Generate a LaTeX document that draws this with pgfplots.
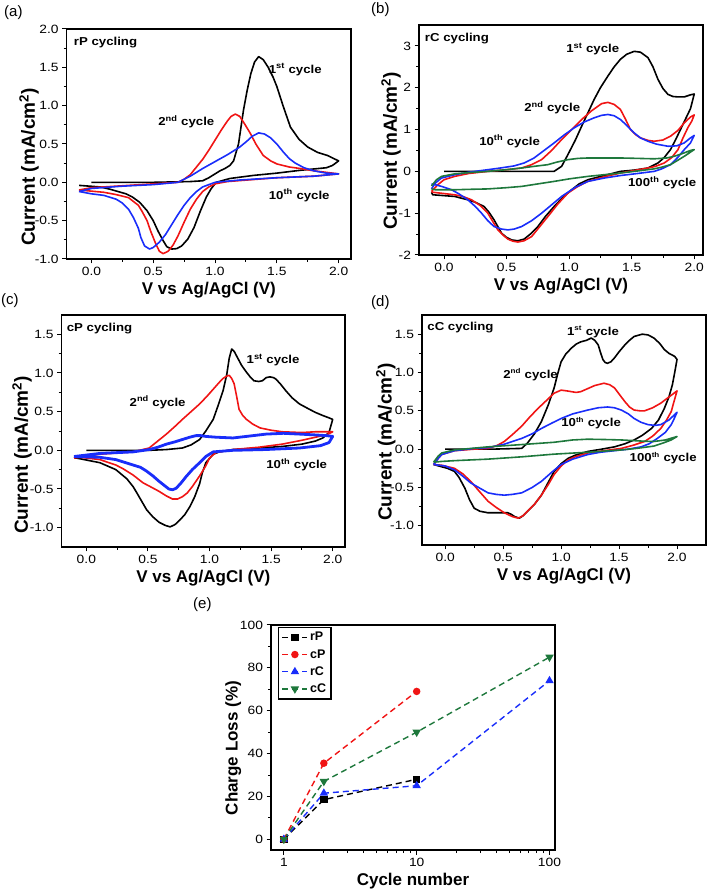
\documentclass[border=0pt]{standalone}
\usepackage{fontspec}
\setmainfont{Liberation Sans}
\newfontfamily\annfont{Liberation Sans}[FakeStretch=1.15]
\usepackage{pgfplots}
\pgfplotsset{compat=1.18}
\definecolor{cvred}{RGB}{240,20,20}
\definecolor{cvblue}{RGB}{25,45,250}
\definecolor{cvgreen}{RGB}{30,120,60}
\pgfplotsset{
 base/.style={
  scale only axis,
  axis line style={line width=1.4pt},
  tick align=outside, xtick pos=bottom, ytick pos=left,
  major tick length=4.5pt, minor tick length=3pt,
  major tick style={black, line width=1pt},
  minor tick style={black, line width=0.9pt},
  ticklabel style={font=\annfont\fontsize{12}{12}\selectfont},
  /pgf/number format/assume math mode=true,
 },
 cvaxis/.style={
  base, width=284pt, height=230pt,
  minor x tick num=1, minor y tick num=1,
  xticklabel style={/pgf/number format/fixed,/pgf/number format/fixed zerofill,/pgf/number format/precision=1},
  xmin=-0.2, xmax=2.1,
  xtick={0,0.5,1,1.5,2},
  xlabel={V vs Ag/AgCl (V)},
  ylabel={Current (mA/cm\textsuperscript{2})},
  xlabel style={font=\bfseries\fontsize{17}{17}\selectfont},
  ylabel style={font=\bfseries\fontsize{19}{19}\selectfont},
  every axis plot/.append style={line width=1.6pt, no markers, line join=round},
 },
 yfix/.style={yticklabel style={/pgf/number format/fixed,/pgf/number format/fixed zerofill,/pgf/number format/precision=1}},
 ylpos/.style 2 args={ylabel style={at={(axis description cs:-#1,#2)}, anchor=south, inner sep=0pt}},
}
\tikzset{ann/.style={font=\annfont\bfseries\fontsize{11.5}{13}\selectfont, anchor=west, inner sep=0pt},
 plab/.style={font=\fontsize{15}{15}\selectfont, anchor=north west, inner sep=0pt}}
\begin{document}
\begin{tikzpicture}
\useasboundingbox (0,0) rectangle (708pt,891pt);
\node[plab] at (4pt,886pt) {(a)};
\node[plab] at (371pt,889pt) {(b)};
\node[plab] at (1pt,598pt) {(c)};
\node[plab] at (371pt,596pt) {(d)};
\node[plab] at (193pt,294pt) {(e)};
% ---------------- (a)
\begin{axis}[cvaxis, yfix, ylpos={0.0975}{0.4}, at={(66.7pt,632pt)}, anchor=south west, width=284.3pt,
  ymin=-1, ymax=2, ytick={-1,-0.5,0,0.5,1,1.5,2}]
\addplot[black] coordinates {(0,0) (0.5,0) (0.8,0.01) (0.9,0.02) (0.95,0.06) (1.0,0.11) (1.04,0.15) (1.08,0.18) (1.12,0.22) (1.15,0.28) (1.19,0.5) (1.23,0.94) (1.26,1.2) (1.29,1.42) (1.32,1.57) (1.353,1.64) (1.39,1.6) (1.43,1.5) (1.47,1.37) (1.50,1.25) (1.55,1.0) (1.61,0.72) (1.68,0.56) (1.75,0.46) (1.83,0.39) (1.91,0.35) (1.96,0.31) (2.0,0.28)
 (1.95,0.22) (1.9,0.19) (1.69,0.157) (1.5,0.12) (1.31,0.09) (1.12,0.05) (1.01,0.0) (0.97,-0.08) (0.93,-0.19) (0.88,-0.38) (0.83,-0.59) (0.78,-0.74) (0.73,-0.83) (0.69,-0.865) (0.65,-0.87) (0.61,-0.84) (0.58,-0.76) (0.54,-0.64) (0.50,-0.5) (0.45,-0.37) (0.39,-0.26) (0.33,-0.19) (0.28,-0.15) (0.15,-0.09) (0.07,-0.06) (-0.1,-0.04)};
\addplot[cvred] coordinates {(-0.1,-0.1) (0.0,-0.07) (0.3,-0.04) (0.6,-0.01) (0.7,0.0) (0.75,0.04) (0.8,0.1) (0.85,0.2) (0.9,0.3) (0.95,0.42) (1.0,0.55) (1.05,0.68) (1.1,0.8) (1.13,0.86) (1.164,0.89) (1.2,0.86) (1.24,0.76) (1.285,0.64) (1.33,0.5) (1.39,0.35) (1.45,0.28) (1.50,0.24) (1.6,0.2) (1.69,0.18) (1.8,0.15) (2.0,0.11)
 (1.8,0.08) (1.5,0.06) (1.1,0.01) (1.0,-0.02) (0.95,-0.06) (0.9,-0.12) (0.85,-0.22) (0.8,-0.35) (0.75,-0.52) (0.7,-0.7) (0.66,-0.82) (0.62,-0.9) (0.58,-0.93) (0.55,-0.9) (0.52,-0.8) (0.48,-0.64) (0.45,-0.5) (0.41,-0.38) (0.38,-0.3) (0.3,-0.2) (0.2,-0.16) (0.1,-0.13) (-0.1,-0.1)};
\addplot[cvblue] coordinates {(-0.1,-0.12) (0.0,-0.08) (0.25,-0.05) (0.5,-0.03) (0.7,0.0) (0.75,0.04) (0.8,0.08) (0.9,0.18) (1.0,0.27) (1.1,0.36) (1.2,0.46) (1.26,0.54) (1.3,0.6) (1.353,0.645) (1.4,0.63) (1.45,0.58) (1.5,0.5) (1.55,0.4) (1.6,0.31) (1.65,0.25) (1.72,0.19) (1.8,0.15) (1.9,0.12) (2.0,0.11)
 (1.8,0.08) (1.5,0.06) (1.2,0.03) (1.0,0.0) (0.9,-0.06) (0.85,-0.12) (0.8,-0.2) (0.75,-0.3) (0.7,-0.42) (0.65,-0.55) (0.6,-0.68) (0.55,-0.78) (0.5,-0.85) (0.47,-0.87) (0.43,-0.83) (0.4,-0.72) (0.38,-0.6) (0.34,-0.46) (0.3,-0.35) (0.25,-0.27) (0.2,-0.22) (0.1,-0.17) (0.0,-0.15) (-0.1,-0.12)};
\node[ann] at (axis cs:-0.143,1.82) {rP cycling};
\node[ann] at (axis cs:1.434,1.47) {1\textsuperscript{st} cycle};
\node[ann] at (axis cs:0.54,0.79) {2\textsuperscript{nd} cycle};
\node[ann] at (axis cs:1.434,-0.17) {10\textsuperscript{th} cycle};
\end{axis}
% ---------------- (b)
\begin{axis}[cvaxis, ylpos={0.063}{0.452}, at={(419pt,636pt)}, anchor=south west, width=284pt, xmax=2.07,
  ymin=-2, ymax=3.5, ytick={-2,-1,0,1,2,3}]
\addplot[black] coordinates {(0,0) (0.5,0) (0.88,0.0) (0.94,0.12) (0.99,0.4) (1.05,0.75) (1.10,1.08) (1.15,1.4) (1.2,1.72) (1.25,2.0) (1.31,2.28) (1.36,2.5) (1.41,2.68) (1.46,2.8) (1.52,2.87) (1.57,2.85) (1.63,2.72) (1.67,2.5) (1.71,2.2) (1.75,1.98) (1.79,1.84) (1.83,1.79) (1.87,1.78) (1.92,1.78) (1.97,1.83) (2.0,1.85)
 (1.97,1.5) (1.93,1.25) (1.89,1.0) (1.85,0.75) (1.81,0.52) (1.76,0.33) (1.71,0.2) (1.63,0.08) (1.52,0.03) (1.41,0.0) (1.28,-0.1) (1.15,-0.2) (1.08,-0.3) (1.02,-0.44) (0.95,-0.62) (0.88,-0.84) (0.81,-1.08) (0.75,-1.32) (0.69,-1.5) (0.64,-1.62) (0.59,-1.66) (0.54,-1.64) (0.5,-1.58) (0.46,-1.48) (0.43,-1.32) (0.40,-1.16) (0.36,-0.98) (0.32,-0.84) (0.25,-0.74) (0.19,-0.68) (0.085,-0.6) (-0.09,-0.56) (-0.1,-0.5)};
\addplot[cvred] coordinates {(-0.1,-0.48) (-0.05,-0.32) (0.0,-0.2) (0.085,-0.12) (0.2,-0.05) (0.35,0.0) (0.5,0.04) (0.62,0.08) (0.7,0.16) (0.78,0.28) (0.86,0.5) (0.94,0.76) (1.02,1.0) (1.10,1.24) (1.18,1.45) (1.26,1.62) (1.31,1.65) (1.36,1.6) (1.41,1.48) (1.45,1.25) (1.49,1.0) (1.53,0.88) (1.57,0.8) (1.63,0.74) (1.68,0.72) (1.75,0.75) (1.81,0.84) (1.87,0.98) (1.92,1.16) (1.97,1.3) (2.0,1.35)
 (1.98,1.2) (1.95,1.05) (1.91,0.8) (1.87,0.52) (1.82,0.33) (1.76,0.2) (1.69,0.12) (1.63,0.08) (1.52,0.02) (1.41,-0.04) (1.28,-0.13) (1.15,-0.24) (1.07,-0.36) (0.99,-0.52) (0.91,-0.78) (0.83,-1.08) (0.76,-1.34) (0.70,-1.56) (0.64,-1.66) (0.59,-1.69) (0.55,-1.67) (0.51,-1.62) (0.47,-1.52) (0.43,-1.4) (0.39,-1.2) (0.35,-1.0) (0.29,-0.82) (0.22,-0.68) (0.15,-0.6) (0.085,-0.56) (-0.09,-0.5) (-0.1,-0.48)};
\addplot[cvblue] coordinates {(-0.1,-0.42) (-0.07,-0.28) (-0.02,-0.16) (0.085,-0.08) (0.2,-0.02) (0.35,0.04) (0.45,0.08) (0.56,0.13) (0.64,0.2) (0.72,0.32) (0.8,0.5) (0.88,0.68) (0.96,0.87) (1.04,1.04) (1.12,1.18) (1.2,1.28) (1.26,1.34) (1.31,1.36) (1.36,1.33) (1.41,1.24) (1.46,1.1) (1.52,0.92) (1.57,0.8) (1.63,0.72) (1.7,0.65) (1.79,0.6) (1.86,0.61) (1.92,0.68) (1.97,0.8) (2.0,0.86)
 (1.97,0.68) (1.92,0.52) (1.87,0.34) (1.81,0.16) (1.74,0.06) (1.68,0.0) (1.55,-0.05) (1.41,-0.1) (1.28,-0.16) (1.15,-0.24) (1.05,-0.38) (0.94,-0.6) (0.86,-0.8) (0.78,-1.0) (0.70,-1.18) (0.62,-1.32) (0.56,-1.38) (0.51,-1.4) (0.46,-1.38) (0.40,-1.32) (0.35,-1.18) (0.30,-1.0) (0.25,-0.84) (0.19,-0.68) (0.12,-0.54) (0.06,-0.44) (-0.02,-0.36) (-0.07,-0.32) (-0.1,-0.3)};
\addplot[cvgreen] coordinates {(-0.1,-0.35) (-0.06,-0.2) (-0.02,-0.12) (0.085,-0.06) (0.2,-0.03) (0.35,0.0) (0.5,0.04) (0.62,0.08) (0.72,0.12) (0.83,0.16) (0.9,0.22) (0.99,0.28) (1.07,0.31) (1.15,0.32) (1.3,0.32) (1.41,0.32) (1.55,0.31) (1.68,0.3) (1.78,0.32) (1.84,0.36) (1.9,0.42) (1.97,0.5) (2.0,0.52)
 (1.96,0.44) (1.92,0.36) (1.86,0.25) (1.81,0.16) (1.74,0.1) (1.68,0.06) (1.55,0.01) (1.41,-0.04) (1.28,-0.08) (1.15,-0.12) (1.0,-0.18) (0.88,-0.24) (0.75,-0.3) (0.62,-0.36) (0.5,-0.39) (0.35,-0.42) (0.2,-0.43) (0.085,-0.44) (-0.07,-0.44) (-0.1,-0.42)};
\node[ann] at (axis cs:-0.154,3.18) {rC cycling};
\node[ann] at (axis cs:0.976,2.92) {1\textsuperscript{st} cycle};
\node[ann] at (axis cs:0.64,1.52) {2\textsuperscript{nd} cycle};
\node[ann] at (axis cs:0.28,0.72) {10\textsuperscript{th} cycle};
\node[ann] at (axis cs:1.47,-0.28) {100\textsuperscript{th} cycle};
\end{axis}
% ---------------- (c)
\begin{axis}[cvaxis, yfix, ylpos={0.105}{0.397}, at={(61.7pt,344pt)}, anchor=south west, width=283.3pt, height=232pt,
  ymin=-1.25, ymax=1.75, ytick={-1,-0.5,0,0.5,1,1.5}]
\addplot[black] coordinates {(0,0) (0.51,0) (0.65,0.01) (0.78,0.03) (0.85,0.07) (0.92,0.14) (0.97,0.25) (1.03,0.40) (1.07,0.58) (1.11,0.77) (1.14,0.98) (1.16,1.19) (1.18,1.31) (1.2,1.28) (1.23,1.19) (1.26,1.1) (1.30,1.01) (1.33,0.95) (1.36,0.90) (1.40,0.89) (1.43,0.90) (1.46,0.94) (1.49,0.95) (1.52,0.94) (1.54,0.92) (1.58,0.85) (1.62,0.77) (1.67,0.68) (1.73,0.60) (1.8,0.54) (1.86,0.49) (1.92,0.45) (1.97,0.42) (2.0,0.40)
 (1.97,0.23) (1.92,0.16) (1.86,0.12) (1.75,0.08) (1.59,0.05) (1.4,0.03) (1.19,0.01) (1.08,-0.02) (1.03,-0.05) (0.97,-0.16) (0.94,-0.3) (0.92,-0.43) (0.88,-0.6) (0.84,-0.73) (0.80,-0.83) (0.76,-0.90) (0.72,-0.96) (0.68,-0.99) (0.64,-0.97) (0.59,-0.93) (0.54,-0.86) (0.49,-0.77) (0.45,-0.66) (0.41,-0.55) (0.38,-0.47) (0.33,-0.37) (0.24,-0.25) (0.11,-0.16) (-0.08,-0.1) (-0.1,-0.1)};
\addplot[cvred] coordinates {(-0.1,-0.1) (0.11,-0.05) (0.38,-0.02) (0.51,0.03) (0.58,0.12) (0.65,0.21) (0.72,0.31) (0.78,0.40) (0.85,0.50) (0.92,0.60) (0.98,0.70) (1.03,0.79) (1.08,0.88) (1.11,0.93) (1.14,0.96) (1.16,0.97) (1.18,0.93) (1.20,0.86) (1.22,0.7) (1.24,0.53) (1.27,0.45) (1.30,0.40) (1.35,0.34) (1.41,0.29) (1.5,0.26) (1.59,0.24) (1.75,0.23) (1.86,0.24) (2.0,0.24)
 (1.95,0.2) (1.89,0.18) (1.75,0.13) (1.59,0.08) (1.4,0.04) (1.19,0.01) (1.05,-0.03) (1.0,-0.1) (0.97,-0.2) (0.92,-0.33) (0.86,-0.47) (0.82,-0.55) (0.78,-0.6) (0.74,-0.63) (0.70,-0.63) (0.65,-0.59) (0.59,-0.53) (0.52,-0.47) (0.46,-0.42) (0.42,-0.37) (0.38,-0.32) (0.3,-0.24) (0.24,-0.19) (0.11,-0.12) (-0.1,-0.08)};
\addplot[cvblue, line width=2.8pt] coordinates {(-0.1,-0.08) (0.11,-0.04) (0.38,-0.02) (0.51,0.01) (0.58,0.04) (0.65,0.08) (0.72,0.11) (0.78,0.14) (0.84,0.17) (0.89,0.19) (0.93,0.19) (0.97,0.18) (1.05,0.17) (1.19,0.16) (1.3,0.18) (1.46,0.21) (1.6,0.22) (1.73,0.21) (1.85,0.2) (1.95,0.19) (2.0,0.18)
 (1.97,0.1) (1.9,0.06) (1.73,0.03) (1.45,0.01) (1.19,0.0) (1.03,-0.02) (0.97,-0.08) (0.92,-0.16) (0.86,-0.25) (0.81,-0.34) (0.77,-0.42) (0.73,-0.49) (0.70,-0.51) (0.67,-0.5) (0.63,-0.45) (0.59,-0.40) (0.54,-0.33) (0.49,-0.27) (0.44,-0.22) (0.38,-0.19) (0.24,-0.12) (0.11,-0.09) (-0.1,-0.08)};
\node[ann] at (axis cs:-0.16,1.58) {cP cycling};
\node[ann] at (axis cs:1.30,1.17) {1\textsuperscript{st} cycle};
\node[ann] at (axis cs:0.35,0.62) {2\textsuperscript{nd} cycle};
\node[ann] at (axis cs:1.46,-0.19) {10\textsuperscript{th} cycle};
\end{axis}
% ---------------- (d)
\begin{axis}[cvaxis, yfix, ylpos={0.092}{0.448}, at={(422pt,346pt)}, anchor=south west, width=284pt, xmax=2.25,
  ymin=-1.25, ymax=1.75, ytick={-1,-0.5,0,0.5,1,1.5}]
\addplot[black] coordinates {(0,0) (0.4,0.0) (0.66,0.01) (0.71,0.08) (0.77,0.2) (0.83,0.36) (0.89,0.58) (0.94,0.8) (0.97,0.98) (1.0,1.14) (1.04,1.24) (1.09,1.32) (1.13,1.37) (1.17,1.40) (1.22,1.42) (1.26,1.45) (1.29,1.42) (1.32,1.36) (1.34,1.26) (1.36,1.17) (1.38,1.13) (1.40,1.12) (1.43,1.14) (1.46,1.19) (1.5,1.27) (1.55,1.36) (1.59,1.42) (1.63,1.47) (1.7,1.5) (1.75,1.49) (1.80,1.45) (1.85,1.38) (1.89,1.30) (1.93,1.25) (1.98,1.21) (2.0,1.17)
 (1.98,1.0) (1.96,0.84) (1.93,0.68) (1.89,0.53) (1.84,0.38) (1.78,0.27) (1.7,0.18) (1.63,0.12) (1.55,0.07) (1.46,0.03) (1.35,0.0) (1.23,-0.03) (1.12,-0.08) (1.06,-0.12) (1.0,-0.19) (0.94,-0.29) (0.89,-0.43) (0.83,-0.6) (0.77,-0.72) (0.71,-0.81) (0.67,-0.87) (0.64,-0.90) (0.6,-0.88) (0.57,-0.85) (0.54,-0.83) (0.45,-0.83) (0.37,-0.83) (0.3,-0.81) (0.25,-0.77) (0.21,-0.66) (0.17,-0.51) (0.12,-0.37) (0.08,-0.29) (0.02,-0.25) (-0.03,-0.23) (-0.1,-0.2)};
\addplot[cvred] coordinates {(-0.1,-0.2) (-0.06,-0.12) (-0.03,-0.07) (0.08,-0.02) (0.25,0.0) (0.37,0.01) (0.45,0.05) (0.51,0.1) (0.58,0.19) (0.66,0.30) (0.73,0.42) (0.80,0.53) (0.87,0.63) (0.94,0.73) (1.0,0.77) (1.05,0.76) (1.09,0.75) (1.13,0.74) (1.17,0.75) (1.23,0.79) (1.29,0.83) (1.37,0.86) (1.42,0.84) (1.46,0.80) (1.5,0.72) (1.55,0.62) (1.59,0.55) (1.63,0.51) (1.68,0.5) (1.72,0.5) (1.79,0.54) (1.86,0.6) (1.93,0.68) (2.0,0.76)
 (1.97,0.6) (1.95,0.49) (1.91,0.38) (1.86,0.27) (1.79,0.17) (1.72,0.1) (1.62,0.05) (1.52,0.01) (1.37,-0.02) (1.23,-0.05) (1.12,-0.1) (1.06,-0.14) (1.0,-0.22) (0.94,-0.33) (0.89,-0.46) (0.83,-0.6) (0.77,-0.72) (0.71,-0.81) (0.67,-0.87) (0.63,-0.9) (0.58,-0.88) (0.51,-0.83) (0.44,-0.76) (0.37,-0.68) (0.3,-0.56) (0.22,-0.42) (0.15,-0.32) (0.08,-0.25) (-0.03,-0.21) (-0.1,-0.2)};
\addplot[cvblue] coordinates {(-0.1,-0.2) (-0.06,-0.12) (-0.03,-0.07) (0.08,-0.02) (0.25,0.01) (0.37,0.02) (0.5,0.06) (0.66,0.14) (0.75,0.2) (0.83,0.27) (0.92,0.34) (1.0,0.40) (1.1,0.46) (1.23,0.51) (1.32,0.54) (1.40,0.55) (1.46,0.54) (1.52,0.51) (1.58,0.46) (1.63,0.40) (1.69,0.35) (1.75,0.32) (1.81,0.31) (1.86,0.32) (1.93,0.38) (2.0,0.48)
 (1.97,0.38) (1.95,0.32) (1.9,0.22) (1.83,0.14) (1.76,0.07) (1.69,0.03) (1.58,0.0) (1.46,-0.02) (1.34,-0.04) (1.23,-0.07) (1.1,-0.13) (1.0,-0.2) (0.92,-0.3) (0.83,-0.42) (0.75,-0.5) (0.66,-0.57) (0.58,-0.59) (0.51,-0.60) (0.44,-0.59) (0.37,-0.57) (0.3,-0.51) (0.22,-0.44) (0.15,-0.35) (0.08,-0.27) (0.0,-0.22) (-0.1,-0.2)};
\addplot[cvgreen] coordinates {(-0.1,-0.17) (-0.06,-0.09) (-0.03,-0.05) (0.08,-0.01) (0.37,0.03) (0.66,0.06) (0.94,0.09) (1.1,0.12) (1.23,0.13) (1.4,0.125) (1.52,0.12) (1.7,0.105) (1.8,0.10) (1.9,0.12) (2.0,0.165)
 (1.95,0.12) (1.88,0.08) (1.80,0.04) (1.65,0.01) (1.52,-0.01) (1.23,-0.04) (0.94,-0.065) (0.66,-0.10) (0.37,-0.13) (0.08,-0.15) (-0.03,-0.16) (-0.1,-0.17)};
\node[ann] at (axis cs:-0.155,1.58) {cC cycling};
\node[ann] at (axis cs:1.05,1.53) {1\textsuperscript{\scriptsize st} cycle};
\node[ann] at (axis cs:0.50,0.97) {2\textsuperscript{\scriptsize nd} cycle};
\node[ann] at (axis cs:1.0,0.34) {10\textsuperscript{\scriptsize th} cycle};
\node[ann] at (axis cs:1.59,-0.12) {100\textsuperscript{\scriptsize th} cycle};
\end{axis}
% ---------------- (e)
\begin{axis}[base, ylpos={0.104}{0.453}, at={(271pt,41pt)}, anchor=south west, width=284pt, height=225pt,
  xmode=log, xmin=0.8, xmax=110, ymin=-5, ymax=100,
  xtick={1,10,100}, xticklabels={1,10,100},
  ytick={0,20,40,60,80,100}, minor y tick num=1,
  xlabel={Cycle number}, ylabel={Charge Loss (\%)},
  xlabel style={font=\bfseries\fontsize{17}{17}\selectfont},
  ylabel style={font=\bfseries\fontsize{17}{17}\selectfont},
  legend style={at={(0.025,0.992)}, anchor=north west, draw=black, line width=1.2pt,
    font=\bfseries\fontsize{12.5}{12.5}\selectfont, row sep=3pt, inner sep=3pt},
  legend cell align=left,
  legend image code/.code={\draw[mark repeat=2,mark phase=2] plot coordinates {(0pt,0pt) (12.5pt,0pt) (25pt,0pt)};},
  every axis plot/.append style={line width=1.4pt, dash pattern=on 6pt off 4pt, mark size=3pt},
]
\addplot[black, mark=square*, mark options={solid}] coordinates {(1,0) (2,18.5) (10,28)};
\addplot[cvred, mark=*, mark options={solid}] coordinates {(1,0) (2,35.5) (10,69)};
\addplot[cvblue, mark=triangle*, mark options={solid}, mark size=3.5pt] coordinates {(1,0) (2,21.5) (10,25) (100,74)};
\addplot[cvgreen, mark=triangle*, mark options={solid, rotate=180}, mark size=3.5pt] coordinates {(1,0) (2,27) (10,50) (100,85)};
\legend{rP,cP,rC,cC}
\end{axis}
\end{tikzpicture}
\end{document}
